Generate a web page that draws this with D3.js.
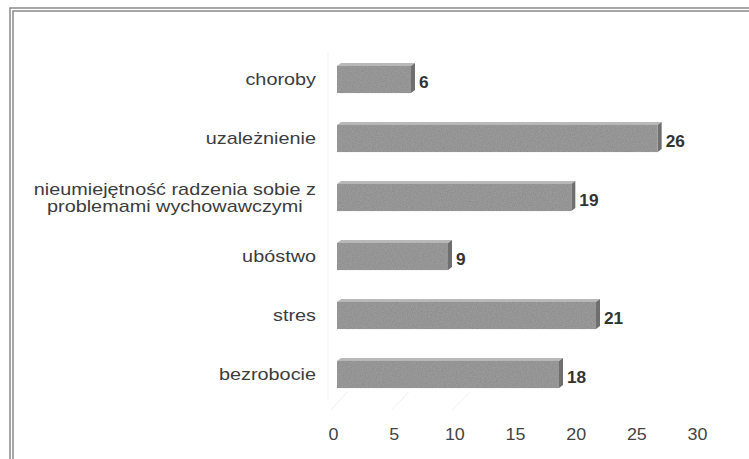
<!DOCTYPE html>
<html>
<head>
<meta charset="utf-8">
<script src="https://cdn.jsdelivr.net/npm/d3@7"></script>
<style>
  body { margin: 0; background: #fff; }
  svg { display: block; font-family: "Liberation Sans", Arial, sans-serif; }
</style>
</head>
<body>
<svg width="749" height="459"></svg>
<script>
// categories, top to bottom, and their counts
var categories = ["choroby", "uzależnienie", "nieumiejętność radzenia sobie z\nproblemami wychowawczymi", "ubóstwo", "stres", "bezrobocie"];
var values = [6, 26, 19, 9, 21, 18];
var tickValues = [0, 5, 10, 15, 20, 25, 30];

var svg = d3.select("svg");

var data = categories.map(function(c, i) { return {name: c, value: values[i]}; });

// bars sit on the back plane, the axis labels on the front edge of the floor
var x = d3.scaleLinear().domain([0, 30]).range([337, 707]);
var xFloor = d3.scaleLinear().domain([0, 30]).range([333, 697]);
var y = d3.scaleBand().domain(categories).range([50, 404]).paddingInner(0.54).paddingOuter(0.27);

var depthX = 4, depthY = 3;
var stretch = 1.24; // the picture's text is a little wide

// grain filter for the bar faces
var defs = svg.append("defs");
var f = defs.append("filter").attr("id", "grain").attr("x", 0).attr("y", 0).attr("width", 1).attr("height", 1);
f.append("feTurbulence").attr("type", "fractalNoise").attr("baseFrequency", 0.8).attr("numOctaves", 2).attr("seed", 3).attr("result", "n");
f.append("feColorMatrix").attr("in", "n").attr("type", "matrix")
 .attr("values", "0 0 0 0 0  0 0 0 0 0  0 0 0 0 0  0.35 0 0 0 -0.12").attr("result", "dark");
f.append("feComposite").attr("in", "dark").attr("in2", "SourceGraphic").attr("operator", "in").attr("result", "dk");
f.append("feMerge").call(function(m) {
  m.append("feMergeNode").attr("in", "SourceGraphic");
  m.append("feMergeNode").attr("in", "dk");
});

// frame (double line, open on right and bottom)
svg.append("path").attr("d", "M10,459V8H749").attr("fill", "none").attr("stroke", "#8a8a8a").attr("stroke-width", 1.5);
svg.append("path").attr("d", "M13,459V11H749").attr("fill", "none").attr("stroke", "#8a8a8a").attr("stroke-width", 1.5);

// faint wall edge and floor lines
svg.append("line").attr("x1", 328).attr("x2", 328).attr("y1", 52).attr("y2", 400)
   .attr("stroke", "#f3f3f3").attr("stroke-width", 1);
svg.append("g").selectAll("line").data(tickValues.slice(0, 3)).enter().append("line")
   .attr("x1", function(d) { return xFloor(d) - 2; })
   .attr("y1", 410)
   .attr("x2", function(d) { return x(d) + 10; })
   .attr("y2", 392)
   .attr("stroke", "#f1f1f1");

// bars
var bar = svg.append("g").selectAll("g").data(data).enter().append("g");

// top face
bar.append("path")
   .attr("d", function(d) {
     var y0 = y(d.name), x0 = x(0), x1 = x(d.value);
     return "M" + x0 + "," + y0 + "L" + (x0 + depthX) + "," + (y0 - depthY) +
            "L" + (x1 + depthX) + "," + (y0 - depthY) + "L" + x1 + "," + y0 + "Z";
   })
   .attr("fill", "#b9b9b9");

// side face
bar.append("path")
   .attr("d", function(d) {
     var y0 = y(d.name), y1 = y0 + y.bandwidth(), x1 = x(d.value);
     return "M" + x1 + "," + y0 + "L" + (x1 + depthX) + "," + (y0 - depthY) +
            "L" + (x1 + depthX) + "," + (y1 - depthY) + "L" + x1 + "," + y1 + "Z";
   })
   .attr("fill", "#6f6f6f");

// front face
bar.append("rect")
   .attr("x", x(0))
   .attr("y", function(d) { return y(d.name); })
   .attr("width", function(d) { return x(d.value) - x(0); })
   .attr("height", y.bandwidth())
   .attr("fill", "#9a9a9a")
   .attr("filter", "url(#grain)");

// value labels
bar.append("text")
   .attr("transform", function(d) {
     return "translate(" + (x(d.value) + depthX + 4) + "," + (y(d.name) + y.bandwidth() / 2 + 3) + ") scale(1.08,1)";
   })
   .attr("dy", "0.35em")
   .attr("fill", "#333")
   .style("font-size", "16px")
   .style("font-weight", "bold")
   .text(function(d) { return d.value; });

// category labels: lines centred on each other, block right aligned
var labelRight = 316;
var cat = svg.append("g").selectAll("text").data(data).enter().append("text")
   .attr("fill", "#3c3c3c")
   .attr("text-anchor", "middle")
   .style("font-size", "16px");

cat.each(function(d) {
  var t = d3.select(this);
  var lines = d.name.split("\n");
  var cy = y(d.name) + y.bandwidth() / 2;
  var lh = 17;
  lines.forEach(function(l, i) {
    t.append("tspan").text(l)
     .attr("x", 0)
     .attr("y", cy + (i - (lines.length - 1) / 2) * lh)
     .attr("dy", "0.35em");
  });
  var w = d3.max(t.selectAll("tspan").nodes(), function(s) { return s.getComputedTextLength(); });
  var center = labelRight - w * stretch / 2;
  t.attr("transform", "translate(" + center + ",0) scale(" + stretch + ",1)");
});

// x axis on the floor front edge
var axis = svg.append("g")
   .attr("transform", "translate(0,434)")
   .call(d3.axisBottom(xFloor).tickValues(tickValues).tickSize(0).tickPadding(0));
axis.select(".domain").remove();
axis.selectAll("text")
   .attr("dy", "0.35em")
   .attr("fill", "#444")
   .attr("transform", "scale(1.12,1)")
   .style("font-size", "16px")
   .style("font-family", "Liberation Sans, Arial, sans-serif");
</script>
</body>
</html>
